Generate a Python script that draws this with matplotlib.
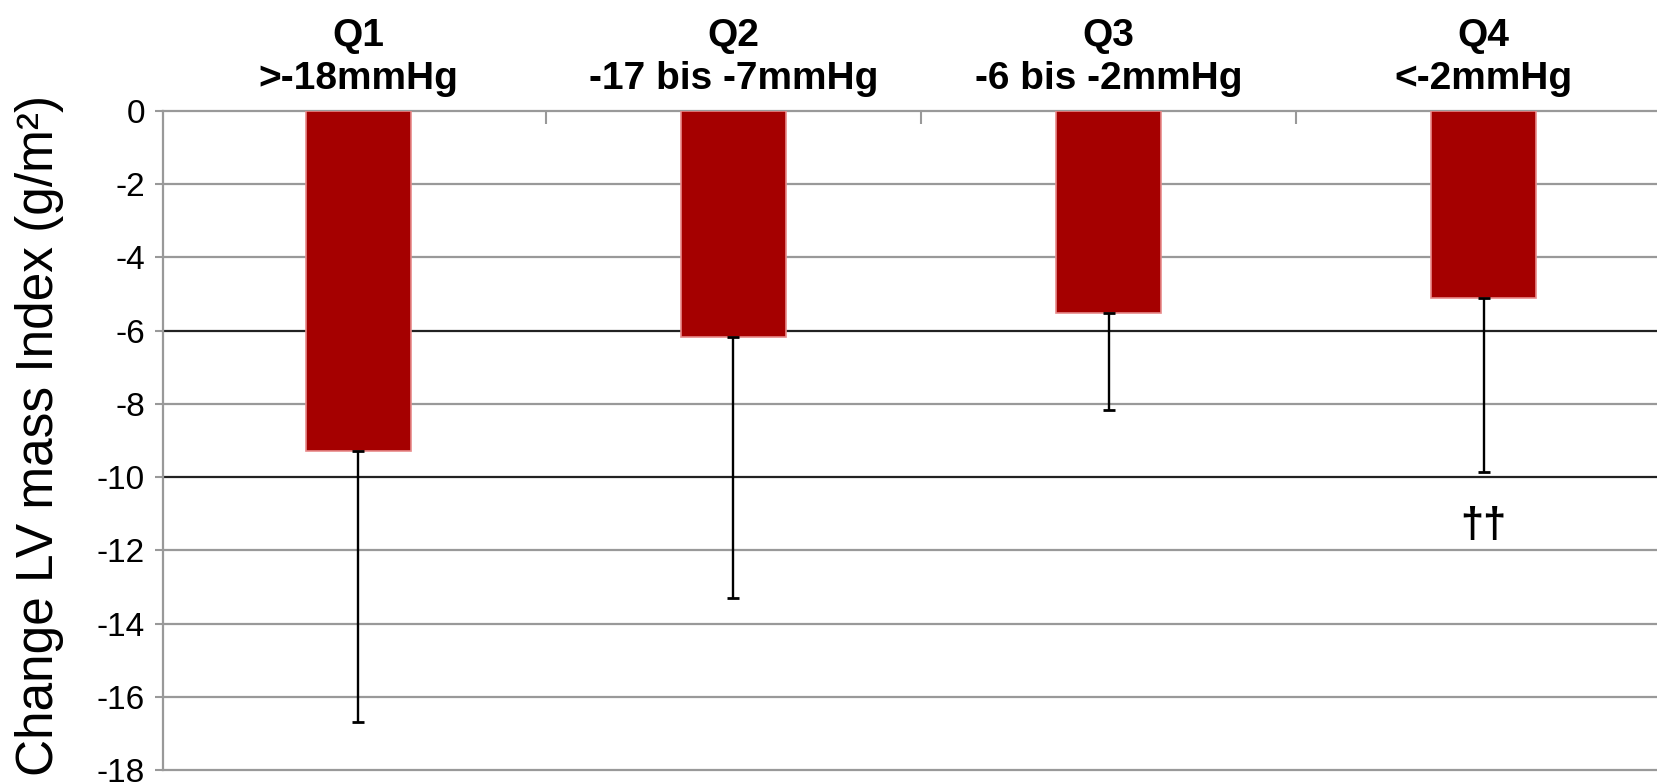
import matplotlib
matplotlib.use("Agg")
import matplotlib.pyplot as plt
from matplotlib.ticker import FixedLocator

plt.rcParams['font.family'] = ['Liberation Sans', 'DejaVu Sans']

# Quartile groups of blood pressure change
quartiles = ["Q1", "Q2", "Q3", "Q4"]
ranges = [">-18mmHg", "-17 bis -7mmHg", "-6 bis -2mmHg", "<-2mmHg"]
# Mean change in LV mass index (g/m²) and the lower end of each error bar
lvmi_change = [-9.3, -6.18, -5.53, -5.11]
error_low_end = [-16.68, -13.3, -8.17, -9.85]
y_ticks = [0, -2, -4, -6, -8, -10, -12, -14, -16, -18]
dark_grid = [-6, -10]

W, H = 1658, 784
fig = plt.figure(figsize=(W / 100, H / 100), dpi=100)
left, right, top, bottom = 163, W, 111, 770
ax = fig.add_axes([left / W, (H - bottom) / H, (right - left) / W, (bottom - top) / H])

x = list(range(len(quartiles)))
lower_err = [v - e for v, e in zip(lvmi_change, error_low_end)]
upper_err = [0] * len(x)

ax.bar(x, lvmi_change, width=0.28, color="#A50000", edgecolor="#E88A8A",
       linewidth=1.2, zorder=3)
ax.errorbar(x, lvmi_change, yerr=[lower_err, upper_err], fmt="none",
            ecolor="black", elinewidth=1.7, capsize=4.5, capthick=2, zorder=4)

ax.set_xlim(-0.521, 3.465)
ax.set_ylim(-18, 0)

# horizontal gridlines
for t in y_ticks[1:-1]:
    c = "#222222" if t in dark_grid else "#999999"
    ax.axhline(t, color=c, lw=1.6, zorder=1)

ax.set_yticks(y_ticks)
ax.set_yticklabels([str(t) for t in y_ticks], fontsize=24)
ax.tick_params(axis="y", direction="out", length=6, width=1.5, color="#999999",
               pad=7)

# category labels above the plot, tick marks between categories
ax.xaxis.tick_top()
ax.set_xticks(x)
ax.set_xticklabels([f"{q}\n{r}" for q, r in zip(quartiles, ranges)],
                   fontsize=28, fontweight="bold", linespacing=1.25)
ax.tick_params(axis="x", which="major", length=0, pad=10)
ax.xaxis.set_minor_locator(FixedLocator([0.5, 1.5, 2.5]))
ax.tick_params(axis="x", which="minor", direction="in", length=9, width=1.5,
               color="#999999", top=True, bottom=False)

ax.spines["right"].set_visible(False)
for side in ("left", "top", "bottom"):
    ax.spines[side].set_color("#999999")
    ax.spines[side].set_linewidth(1.6)

ax.text(3, -11.33, "††", ha="center", va="center", fontsize=30,
        fontweight="bold", zorder=5)

fig.text(40 / W, 1 - 435 / H, "Change LV mass Index (g/m²)", rotation=90,
         ha="center", va="center", fontsize=37)

fig.savefig("out.png", dpi=100, facecolor="white")
